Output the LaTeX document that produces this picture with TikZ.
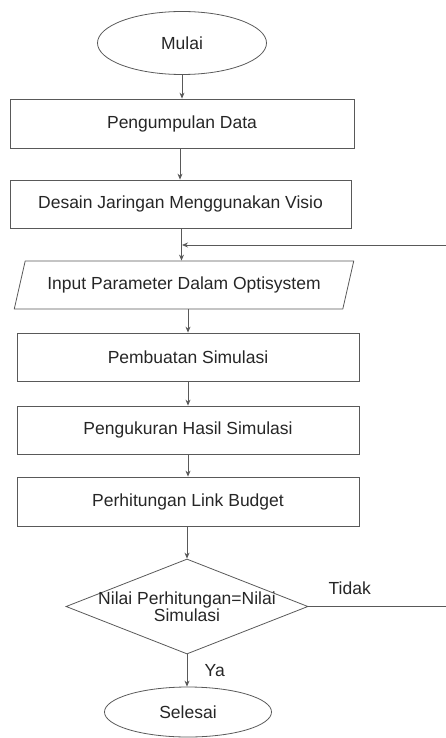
\documentclass[tikz,border=0pt]{standalone}
\usepackage{fontspec}
\setmainfont{Liberation Sans}
\usetikzlibrary{arrows.meta,shapes.geometric,positioning}

\begin{document}
\begin{tikzpicture}[x=1pt,y=-1pt,
  garis/.style={draw=black!65, line width=0.8pt},
  teks/.style={font=\fontsize{17.5}{17}\selectfont, text=black!85},
  terminal/.style={garis, teks, ellipse, inner sep=0pt},
  proses/.style={garis, teks, rectangle, inner sep=0pt},
  io/.style={garis, teks, trapezium, trapezium left angle=60, trapezium right angle=120,
    trapezium stretches=true, inner sep=0pt},
  keputusan/.style={garis, diamond, inner sep=0pt},
  panah/.style={garis, -{Stealth[length=6pt,width=5pt]}}]
  \useasboundingbox (0,0) rectangle (446,738);

  \node[terminal, minimum width=169pt, minimum height=63pt] (mulai) at (182,43) {Mulai};
  \node[proses, minimum width=344pt, minimum height=49pt] (data) at (182,123.5) {Pengumpulan Data};
  \node[proses, minimum width=341pt, minimum height=48pt] (desain) at (180.5,204) {Desain Jaringan Menggunakan Visio};
  \node[io, minimum width=340pt, minimum height=48pt] (input) at (184,285) {Input Parameter Dalam Optisystem};
  \node[proses, minimum width=342pt, minimum height=48pt] (simulasi) at (188,357) {Pembuatan Simulasi};
  \node[proses, minimum width=342pt, minimum height=48pt] (ukur) at (188,430) {Pengukuran Hasil Simulasi};
  \node[proses, minimum width=342pt, minimum height=49pt] (hitung) at (188,501.5) {Perhitungan Link Budget};
  \node[keputusan, minimum width=242pt, minimum height=95pt,
    label={[teks, align=center]center:Nilai Perhitungan=Nilai\\Simulasi}] (cek) at (187,606.5) {};
  \node[terminal, minimum width=167pt, minimum height=50pt] (selesai) at (188,712) {Selesai};

  % jalur kembali
  \coordinate (kananbawah) at (446,606.5);
  \coordinate (kananatas) at (446,245);

  \draw[panah] (mulai.south) -- (data.north -| mulai.south);
  \draw[panah] (data.south -| 180,0) -- (desain.north -| 180,0);
  \draw[panah] (desain.south -| 181.5,0) -- (input.north -| 181.5,0);
  \draw[panah] (input.south -| 188,0) -- (simulasi.north -| 188,0);
  \draw[panah] (simulasi) -- (ukur);
  \draw[panah] (ukur) -- (hitung);
  \draw[panah] (hitung.south -| cek.north) -- (cek.north);
  \draw[panah] (cek.south) -- (selesai.north -| cek.south) node[teks, midway, right=14pt]{Ya};
  \draw[garis] (cek.east) -- (kananbawah) node[teks, pos=0.3, above=8pt]{Tidak};
  \draw[panah] (kananatas) -- (kananatas -| 182,0);
\end{tikzpicture}
\end{document}
